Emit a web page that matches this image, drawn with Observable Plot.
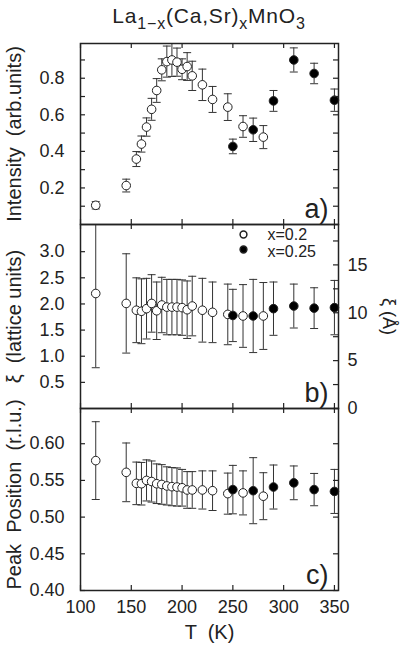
<!DOCTYPE html>
<html><head><meta charset="utf-8">
<script src="https://cdn.jsdelivr.net/npm/d3@7"></script>
<script src="https://cdn.jsdelivr.net/npm/@observablehq/plot@0.6"></script>
<style>
body{margin:0;background:#fff;}
#c{position:relative;width:402px;height:647px;background:#fff;font-family:"Liberation Sans",Arial,sans-serif;color:#222;overflow:hidden;}
#title{position:absolute;top:3px;left:0;width:418px;text-align:center;font-size:21px;line-height:26px;letter-spacing:0.8px;}
#title sub{font-size:16px;vertical-align:-6px;line-height:0;}
.p{position:absolute;left:0;}
</style></head><body><div id="c"><div id="title">La<sub>1−x</sub>(Ca,Sr)<sub>x</sub>MnO<sub>3</sub></div></div>
<script>
// ---- data ----
const T02 = [115,145,155,160,165,170,175,180,185,190,195,200,205,210,220,230,245,260,280];
const T025 = [250,270,290,310,330,350];

const int02    = [0.105,0.213,0.358,0.44,0.533,0.63,0.733,0.846,0.891,0.90,0.888,0.849,0.864,0.813,0.764,0.684,0.642,0.536,0.478];
const int02err = [0.02,0.035,0.041,0.044,0.05,0.06,0.065,0.06,0.085,0.09,0.077,0.057,0.076,0.08,0.086,0.071,0.073,0.059,0.063];
const int025    = [0.427,0.518,0.676,0.90,0.826,0.68];
const int025err = [0.04,0.064,0.057,0.066,0.056,0.061];

const xi02    = [2.20,2.01,1.88,1.86,1.91,2.01,1.87,1.98,1.94,1.94,1.94,1.93,1.89,1.96,1.88,1.84,1.80,1.77,1.77];
const xi02err = [1.42,0.95,0.62,0.62,0.58,0.55,0.55,0.53,0.53,0.53,0.53,0.53,0.55,0.57,0.61,0.58,0.58,0.60,0.64];
const xi025    = [1.78,1.77,1.91,1.96,1.92,1.93];
const xi025err = [0.50,0.70,0.51,0.42,0.39,0.52];

const pk02    = [0.577,0.561,0.546,0.5455,0.550,0.5485,0.5455,0.5445,0.5425,0.5415,0.541,0.540,0.537,0.537,0.537,0.536,0.532,0.533,0.5285];
const pk02err = [0.053,0.040,0.029,0.029,0.028,0.028,0.027,0.027,0.026,0.026,0.026,0.025,0.025,0.025,0.026,0.027,0.028,0.030,0.032];
const pk025    = [0.5375,0.536,0.541,0.5467,0.5375,0.535];
const pk025err = [0.033,0.045,0.030,0.023,0.022,0.030];

const tTicks = [100,150,200,250,300,350];
const intTicks = [0.2,0.4,0.6,0.8];
const intMinor = [0.1,0.3,0.5,0.7,0.9];
const xiTicks = [0.5,1.0,1.5,2.0,2.5,3.0];
const angTicks = [0,5,10,15];
const angMinor = [2.5,7.5,12.5,17.5];
const LATTICE_A = 5.46; // Å per lattice unit
const pkTicks = [0.40,0.45,0.50,0.55,0.60];
const legendLabels = ["x=0.2","x=0.25"];

// ---- helpers ----
const W = 402, ML = 80, MR = 64, MT = 10;
const FW = W - ML - MR;
const xDomain = [100, 354];
const FONT = '"Liberation Sans",Arial,sans-serif';
const cap = {draw(ctx, size){ const r = Math.sqrt(size/Math.PI); ctx.moveTo(-r,0); ctx.lineTo(r,0); }};

function rows(T, v, e){ return T.map((t,i)=>({T:t, v:v[i], lo:v[i]-e[i], hi:v[i]+e[i]})); }

function panel(o){
  const FH = o.frameH;
  const a = rows(T02, o.v02, o.e02), b = rows(T025, o.v025, o.e025);
  const all = a.concat(b);
  const yAll = o.yTicks.concat(o.yMinor || []);
  const marks = [
    Plot.ruleX(all, {x:"T", y1:"lo", y2:"hi", stroke:"#333", strokeWidth:1, clip:true}),
    Plot.dot(all, {x:"T", y:"lo", symbol:cap, r:4, stroke:"#333", strokeWidth:1, clip:true}),
    Plot.dot(all, {x:"T", y:"hi", symbol:cap, r:4, stroke:"#333", strokeWidth:1, clip:true}),
    Plot.dot(a, {x:"T", y:"v", r:4.3, fill:"white", stroke:"#222", strokeWidth:1}),
    Plot.dot(b, {x:"T", y:"v", r:4.3, fill:"black", stroke:"#222", strokeWidth:1}),
    Plot.tickY(yAll, {y:d=>d, insetRight:FW-5, stroke:"#222", strokeWidth:1.2}),
    Plot.tickY(o.rightTicks || yAll, {y:d=>d, insetLeft:FW-5, stroke:"#222", strokeWidth:1.2}),
    Plot.tickX(tTicks, {x:d=>d, insetTop:FH-5, stroke:"#222", strokeWidth:1.2}),
    Plot.tickX(tTicks, {x:d=>d, insetBottom:FH-5, stroke:"#222", strokeWidth:1.2}),
    Plot.frame({stroke:"#222", strokeWidth:1.5}),
    Plot.axisY({ticks:o.yTicks, tickSize:0, tickPadding:16, tickFormat:o.yFmt, label:null, fontSize:18, fill:"#222"}),
    Plot.text([o.yLabel], {frameAnchor:"left", textAnchor:"middle", lineAnchor:"middle", rotate:-90, dx:-66, dy:o.labelDy || 0, fontSize:20, fill:"#222"}),
    Plot.text([o.tag], {frameAnchor:"bottom-right", dx:-10, dy:-7, textAnchor:"end", lineAnchor:"bottom", fontSize:27, fill:"#222"})
  ];
  if (o.extra) marks.push(...o.extra);
  const svg = Plot.plot({
    width: W, height: MT + FH + o.mb,
    marginLeft: ML, marginRight: MR, marginTop: MT, marginBottom: o.mb,
    x: {domain: xDomain, axis: o.showX ? undefined : null},
    y: {domain: o.yDomain},
    style: {fontFamily: FONT, fontSize: "18px", background: "transparent", overflow: "visible", color: "#222"},
    marks
  });
  svg.classList.add("p");
  svg.style.top = (o.top - MT) + "px";
  document.getElementById("c").appendChild(svg);
}

// panel a
panel({v02:int02, e02:int02err, v025:int025, e025:int025err,
  yDomain:[0,0.99], yTicks:intTicks, yMinor:intMinor, yFmt:d3.format(".1f"),
  yLabel:"Intensity  (arb.units)", tag:"a)", top:43, frameH:181, mb:10, labelDy:0});

// panel b
const angToXi = a => a / LATTICE_A;
panel({v02:xi02, e02:xi02err, v025:xi025, e025:xi025err,
  yDomain:[0,3.52], yTicks:xiTicks, yFmt:d3.format(".1f"),
  rightTicks: angTicks.concat(angMinor).map(angToXi),
  yLabel:"ξ  (lattice units)", tag:"b)", top:224, frameH:184, mb:10,
  extra:[
    Plot.axisY({anchor:"right", ticks:angTicks.map(angToXi), tickSize:0, tickPadding:9, tickFormat:d=>Math.round(d*LATTICE_A), label:null, fontSize:18, fill:"#222"}),
    Plot.text(["ξ (Å)"], {frameAnchor:"right", textAnchor:"middle", lineAnchor:"middle", rotate:90, dx:50, dy:0, fontSize:18, fill:"#222"}),
    Plot.dot([legendLabels[0]], {frameAnchor:"top-right", dx:-95, dy:10, r:3.4, fill:"white", stroke:"#222"}),
    Plot.dot([legendLabels[1]], {frameAnchor:"top-right", dx:-95, dy:25, r:3.4, fill:"black", stroke:"#222"}),
    Plot.text([legendLabels[0]], {frameAnchor:"top-right", dx:-71, dy:10, textAnchor:"start", lineAnchor:"middle", fontSize:16, fill:"#222"}),
    Plot.text([legendLabels[1]], {frameAnchor:"top-right", dx:-71, dy:27, textAnchor:"start", lineAnchor:"middle", fontSize:16, fill:"#222"})
  ]});

// panel c
panel({v02:pk02, e02:pk02err, v025:pk025, e025:pk025err,
  yDomain:[0.40,0.648], yTicks:pkTicks, yFmt:d3.format(".2f"),
  rightTicks: pkTicks,
  yLabel:"Peak  Position  (r.l.u.)", tag:"c)", top:408, frameH:182, mb:57, showX:true, labelDy:-5,
  extra:[
    Plot.axisX({ticks:tTicks, tickSize:0, tickPadding:10, tickFormat:d3.format("d"), label:null, fontSize:18, fill:"#222"}),
    Plot.text(["T  (K)"], {frameAnchor:"bottom", lineAnchor:"middle", dy:42, fontSize:20, fill:"#222"})
  ]});
</script></body></html>
